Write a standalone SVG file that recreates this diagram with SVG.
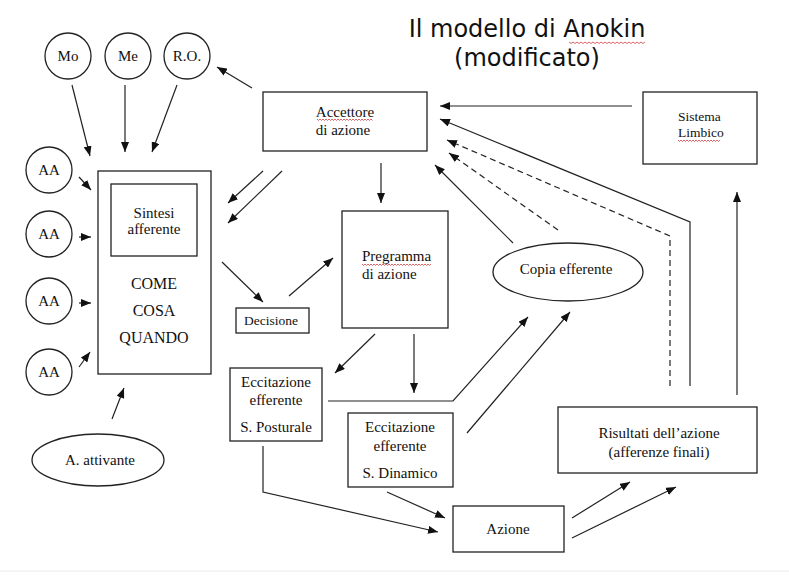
<svg xmlns="http://www.w3.org/2000/svg" width="789" height="576" viewBox="0 0 789 576">
<style>
.box{fill:#fff;stroke:#222;stroke-width:1.3}
.t{font-family:"Liberation Serif","Times New Roman",serif;font-size:15px;fill:#111;text-anchor:middle}
.s{font-size:13.5px}
.l{text-anchor:start}
.title{font-family:"DejaVu Sans",sans-serif;font-size:24px;fill:#111;text-anchor:middle}
.c{fill:none;stroke:#222;stroke-width:1.2}
.d{stroke-dasharray:6 4}
.sq{fill:none;stroke:#d04040;stroke-width:0.8}
</style>
<defs>
<marker id="ah" markerWidth="10" markerHeight="8" refX="10" refY="4" orient="auto" markerUnits="userSpaceOnUse">
<path d="M0,0 L10,4 L0,8 z" fill="#111"/>
</marker>
</defs>
<rect width="789" height="576" fill="#fff"/>
<line x1="0" y1="571" x2="789" y2="571" stroke="#ececec" stroke-width="1"/>

<g id="title">
<text class="title" x="527" y="37">Il modello di Anokin</text>
<text class="title" x="527" y="66">(modificato)</text>
<path class="sq" d="M569,42 l2,1.5 l2,-1.5 l2,1.5 l2,-1.5 l2,1.5 l2,-1.5 l2,1.5 l2,-1.5 l2,1.5 l2,-1.5 l2,1.5 l2,-1.5 l2,1.5 l2,-1.5 l2,1.5 l2,-1.5 l2,1.5 l2,-1.5 l2,1.5 l2,-1.5 l2,1.5 l2,-1.5 l2,1.5 l2,-1.5 l2,1.5 l2,-1.5 l2,1.5 l2,-1.5 l2,1.5 l2,-1.5 l2,1.5 l2,-1.5 l2,1.5 l2,-1.5 l2,1.5 l2,-1.5 l2,1.5 l2,-1.5"/>
</g>

<g id="connectors">
<line class="c" x1="72" y1="85" x2="90" y2="156" marker-end="url(#ah)"/>
<line class="c" x1="125" y1="85" x2="125" y2="152" marker-end="url(#ah)"/>
<line class="c" x1="177" y1="85" x2="152" y2="152" marker-end="url(#ah)"/>
<line class="c" x1="252" y1="88" x2="217" y2="67" marker-end="url(#ah)"/>
<line class="c" x1="79" y1="177" x2="91" y2="190" marker-end="url(#ah)"/>
<line class="c" x1="79" y1="237" x2="91" y2="237" marker-end="url(#ah)"/>
<line class="c" x1="79" y1="303" x2="91" y2="303" marker-end="url(#ah)"/>
<line class="c" x1="79" y1="367" x2="90" y2="352" marker-end="url(#ah)"/>
<line class="c" x1="112" y1="419" x2="124" y2="388" marker-end="url(#ah)"/>
<line class="c" x1="263" y1="171" x2="228" y2="203" marker-end="url(#ah)"/>
<line class="c" x1="282" y1="171" x2="228" y2="223" marker-end="url(#ah)"/>
<line class="c" x1="381" y1="163" x2="381" y2="203" marker-end="url(#ah)"/>
<line class="c" x1="222" y1="262" x2="263" y2="302" marker-end="url(#ah)"/>
<line class="c" x1="289" y1="296" x2="333" y2="258" marker-end="url(#ah)"/>
<line class="c" x1="375" y1="334" x2="335" y2="373" marker-end="url(#ah)"/>
<line class="c" x1="414" y1="334" x2="414" y2="393" marker-end="url(#ah)"/>
<polyline class="c" points="328,401 453,401 528,317" marker-end="url(#ah)"/>
<line class="c" x1="467" y1="433" x2="570" y2="312" marker-end="url(#ah)"/>
<polyline class="c" points="263,446 263,492 438,532" marker-end="url(#ah)"/>
<line class="c" x1="387" y1="492" x2="445" y2="518" marker-end="url(#ah)"/>
<line class="c" x1="572" y1="518" x2="630" y2="482" marker-end="url(#ah)"/>
<line class="c" x1="572" y1="538" x2="676" y2="487" marker-end="url(#ah)"/>
<line class="c" x1="737" y1="395" x2="737" y2="192" marker-end="url(#ah)"/>
<line class="c" x1="632" y1="106" x2="440" y2="106" marker-end="url(#ah)"/>
<polyline class="c" points="690,386 690,222 440,119" marker-end="url(#ah)"/>
<polyline class="c d" points="670,386 670,236 447,140" marker-end="url(#ah)"/>
<line class="c d" x1="558" y1="230" x2="449" y2="153" marker-end="url(#ah)"/>
<line class="c" x1="513" y1="243" x2="435" y2="165" marker-end="url(#ah)"/>
</g>

<g id="mo"><circle class="box" cx="68" cy="56" r="23"/><text class="t" x="68" y="61">Mo</text></g>
<g id="me"><circle class="box" cx="128" cy="56" r="23"/><text class="t" x="128" y="61">Me</text></g>
<g id="ro"><circle class="box" cx="187" cy="56" r="23"/><text class="t" x="187" y="61">R.O.</text></g>

<g id="aa1"><circle class="box" cx="49" cy="170" r="23"/><text class="t" x="49" y="175">AA</text></g>
<g id="aa2"><circle class="box" cx="49" cy="234" r="23"/><text class="t" x="49" y="239">AA</text></g>
<g id="aa3"><circle class="box" cx="49" cy="301" r="23"/><text class="t" x="49" y="306">AA</text></g>
<g id="aa4"><circle class="box" cx="49" cy="372" r="23"/><text class="t" x="49" y="377">AA</text></g>

<g id="sintesi-box">
<rect class="box" x="98" y="171" width="113" height="203"/>
<rect class="box" x="111" y="184" width="86" height="72"/>
<text class="t" x="154" y="218">Sintesi</text>
<text class="t" x="154" y="234">afferente</text>
<text class="t" x="154" y="289" style="font-size:16px">COME</text>
<text class="t" x="154" y="316" style="font-size:16px">COSA</text>
<text class="t" x="154" y="343" style="font-size:16px">QUANDO</text>
</g>

<g id="attivante"><ellipse class="box" cx="98" cy="460" rx="66" ry="26"/><text class="t" x="100" y="465">A. attivante</text></g>

<g id="accettore">
<rect class="box" x="263" y="92" width="164" height="59"/>
<text class="t" x="345" y="117">Accettore</text>
<text class="t" x="343" y="135">di azione</text>
<path class="sq" d="M317,119 l1.5,1.5 l1.5,-1.5 l1.5,1.5 l1.5,-1.5 l1.5,1.5 l1.5,-1.5 l1.5,1.5 l1.5,-1.5 l1.5,1.5 l1.5,-1.5 l1.5,1.5 l1.5,-1.5 l1.5,1.5 l1.5,-1.5 l1.5,1.5 l1.5,-1.5 l1.5,1.5 l1.5,-1.5 l1.5,1.5 l1.5,-1.5 l1.5,1.5 l1.5,-1.5 l1.5,1.5 l1.5,-1.5 l1.5,1.5 l1.5,-1.5 l1.5,1.5 l1.5,-1.5 l1.5,1.5 l1.5,-1.5 l1.5,1.5 l1.5,-1.5 l1.5,1.5 l1.5,-1.5 l1.5,1.5 l1.5,-1.5 l1.5,1.5"/>
</g>

<g id="limbico">
<rect class="box" x="643" y="92" width="114" height="72"/>
<text class="t s l" x="678" y="121">Sistema</text>
<text class="t s l" x="678" y="137">Limbico</text>
<path class="sq" d="M678,140 l1.5,1.5 l1.5,-1.5 l1.5,1.5 l1.5,-1.5 l1.5,1.5 l1.5,-1.5 l1.5,1.5 l1.5,-1.5 l1.5,1.5 l1.5,-1.5 l1.5,1.5 l1.5,-1.5 l1.5,1.5 l1.5,-1.5 l1.5,1.5 l1.5,-1.5 l1.5,1.5 l1.5,-1.5 l1.5,1.5 l1.5,-1.5 l1.5,1.5 l1.5,-1.5 l1.5,1.5 l1.5,-1.5 l1.5,1.5 l1.5,-1.5 l1.5,1.5 l1.5,-1.5"/>
</g>

<g id="programma">
<rect class="box" x="342" y="211" width="106" height="117"/>
<text class="t l" x="362" y="261">Pregramma</text>
<text class="t l" x="362" y="279">di azione</text>
<path class="sq" d="M362,264 l1.5,1.5 l1.5,-1.5 l1.5,1.5 l1.5,-1.5 l1.5,1.5 l1.5,-1.5 l1.5,1.5 l1.5,-1.5 l1.5,1.5 l1.5,-1.5 l1.5,1.5 l1.5,-1.5 l1.5,1.5 l1.5,-1.5 l1.5,1.5 l1.5,-1.5 l1.5,1.5 l1.5,-1.5 l1.5,1.5 l1.5,-1.5 l1.5,1.5 l1.5,-1.5 l1.5,1.5 l1.5,-1.5 l1.5,1.5 l1.5,-1.5 l1.5,1.5 l1.5,-1.5 l1.5,1.5 l1.5,-1.5 l1.5,1.5 l1.5,-1.5 l1.5,1.5 l1.5,-1.5 l1.5,1.5 l1.5,-1.5 l1.5,1.5 l1.5,-1.5 l1.5,1.5 l1.5,-1.5 l1.5,1.5 l1.5,-1.5 l1.5,1.5 l1.5,-1.5 l1.5,1.5 l1.5,-1.5"/>
</g>

<g id="decisione"><rect class="box" x="236" y="308" width="73" height="25"/><text class="t s" x="271" y="325">Decisione</text></g>

<g id="copia"><ellipse class="box" cx="568" cy="272" rx="75" ry="29"/><text class="t" x="566" y="274">Copia efferente</text></g>

<g id="posturale">
<rect class="box" x="230" y="368" width="92" height="73"/>
<text class="t" x="276" y="387">Eccitazione</text>
<text class="t" x="276" y="405">efferente</text>
<text class="t" x="276" y="432">S. Posturale</text>
</g>

<g id="dinamico">
<rect class="box" x="348" y="413" width="105" height="74"/>
<text class="t" x="400" y="432">Eccitazione</text>
<text class="t" x="400" y="451">efferente</text>
<text class="t" x="400" y="478">S. Dinamico</text>
</g>

<g id="azione"><rect class="box" x="453" y="506" width="111" height="46"/><text class="t" x="508" y="534">Azione</text></g>

<g id="risultati">
<rect class="box" x="558" y="407" width="199" height="66"/>
<text class="t" x="659" y="438">Risultati dell’azione</text>
<text class="t" x="659" y="457">(afferenze finali)</text>
</g>
</svg>
